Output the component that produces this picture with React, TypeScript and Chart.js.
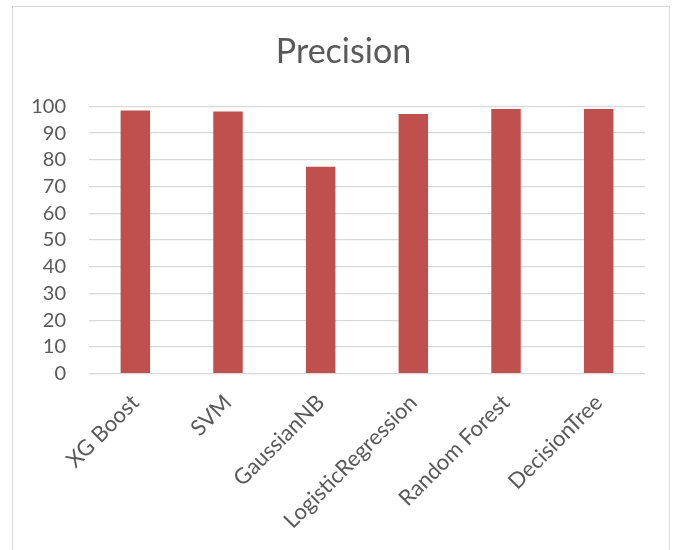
import React, { useEffect, useRef } from "react";
import { Chart, registerables } from "chart.js";

Chart.register(...registerables);

const categories = [
  "XG Boost",
  "SVM",
  "GaussianNB",
  "LogisticRegression",
  "Random Forest",
  "DecisionTree",
];
const precision = [98.4, 98.1, 77.4, 97.1, 99.0, 99.0];
const yTicks = [0, 10, 20, 30, 40, 50, 60, 70, 80, 90, 100];
const chartTitle = "Precision";

const W = 677;
const H = 550;
const FONT = "Lato, 'Open Sans', sans-serif";
const TEXT = "#595959";

// Title centred on the chart frame rather than on the plot area.
const frameTitle = {
  id: "frameTitle",
  afterDraw(chart: any) {
    const ctx = chart.ctx;
    ctx.save();
    ctx.fillStyle = TEXT;
    ctx.font = `normal 34px ${FONT}`;
    ctx.textAlign = "center";
    ctx.textBaseline = "alphabetic";
    ctx.fillText(chartTitle, 343.5, 63);
    ctx.restore();
  },
};

export default function App() {
  const ref = useRef<HTMLCanvasElement | null>(null);

  useEffect(() => {
    if (!ref.current) return;
    const chart = new Chart(ref.current, {
      type: "bar",
      data: {
        labels: categories,
        datasets: [
          {
            label: chartTitle,
            data: precision,
            backgroundColor: "#C0504D",
            borderWidth: 0,
            categoryPercentage: 1,
            barPercentage: 0.318,
          },
        ],
      },
      plugins: [frameTitle],
      options: {
        responsive: false,
        animation: false,
        layout: { padding: { left: 0, right: 32, top: 106.33, bottom: 0 } },
        plugins: {
          legend: { display: false },
          tooltip: { enabled: false },
          title: { display: false },
        },
        scales: {
          x: {
            grid: { display: false },
            border: { display: false },
            ticks: {
              color: TEXT,
              font: { family: FONT, size: 22 },
              minRotation: 45,
              maxRotation: 45,
              autoSkip: false,
              padding: 8,
            },
            afterFit: (s: any) => {
              s.height = H - 373.67;
            },
          },
          y: {
            min: 0,
            max: 100,
            afterBuildTicks: (s: any) => {
              s.ticks = yTicks.map((v) => ({ value: v }));
            },
            grid: { color: "#d9d9d9", lineWidth: 1.3, drawTicks: false },
            border: { display: false },
            ticks: {
              color: TEXT,
              font: { family: FONT, size: 20 },
              padding: 23,
              autoSkip: false,
            },
            afterFit: (s: any) => {
              s.width = 89;
            },
          },
        },
      },
    });
    return () => chart.destroy();
  }, []);

  return (
    <div
      style={{
        position: "absolute",
        left: 0,
        top: 0,
        width: W,
        height: H,
        overflow: "hidden",
        background: "#fff",
      }}
    >
      <div
        style={{
          position: "absolute",
          left: 12,
          top: 6,
          width: 658,
          height: 700,
          border: "1.5px solid #d9d9d9",
          boxSizing: "border-box",
        }}
      />
      <canvas
        ref={ref}
        width={W}
        height={H}
        style={{ position: "absolute", left: 0, top: 0 }}
      />
    </div>
  );
}
